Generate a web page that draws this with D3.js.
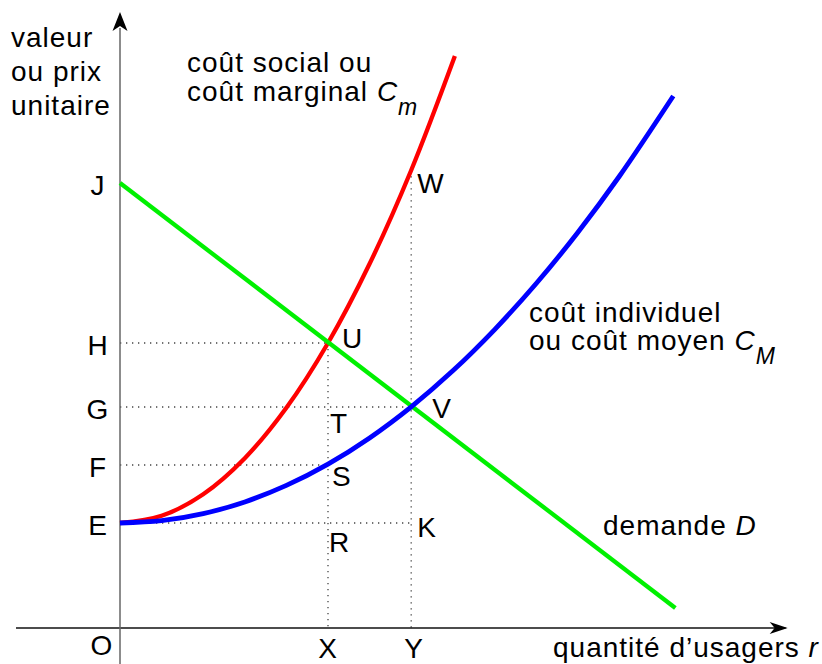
<!DOCTYPE html>
<html><head><meta charset="utf-8">
<script src="https://cdn.jsdelivr.net/npm/d3@7"></script>
<style>html,body{margin:0;padding:0;background:#fff;}svg{display:block;}
text{font-family:"Liberation Sans",Arial,Helvetica,sans-serif;font-size:28px;fill:#000;letter-spacing:1px;}</style>
</head><body>
<script>
// quantity r (x) and value (y) readings
const blueR = [0, 2, 4, 6, 8, 10, 12, 14, 16, 18, 20, 22, 24, 26.6];
const blueV = [10.5, 10.73, 11.43, 12.61, 14.26, 16.39, 19.01, 22.12, 25.72, 29.82, 34.42, 39.53, 45.15, 53.2];
const redR = [0, 2, 4, 6, 8, 10, 12, 14, 16.1];
const redV = [10.5, 11.22, 13.38, 16.98, 22.02, 28.5, 36.42, 45.78, 57.2];
const demandR = [0, 26.7];
const demandV = [44.5, 2.0];
const yTickLabels = ["J", "H", "G", "F", "E"];
const yTickValues = [44.5, 28.5, 22.1, 16.3, 10.5];
const xTickLabels = ["X", "Y"];
const xTickValues = [10, 14];
const pointLabels = ["U", "V", "W", "T", "S", "R", "K"];
const pointR = [10, 14, 14, 10, 10, 10, 14];
const pointV = [28.5, 22.1, 45.78, 22.1, 16.3, 10.5, 10.5];

const W = 822, H = 664;
const svg = d3.select("body").append("svg").attr("width", W).attr("height", H);
const x = d3.scaleLinear().domain([0, 10]).range([120, 328]);
const y = d3.scaleLinear().domain([0, 10]).range([628, 528]);

// dotted guides
const dot = svg.append("g").attr("stroke", "#444").attr("stroke-width", 1.3)
  .attr("stroke-dasharray", "1.3,4.7").attr("fill", "none");
const hGuides = [[28.5, 10], [22.1, 14], [16.3, 10], [10.5, 14]];
hGuides.forEach(([v, r]) => dot.append("line").attr("x1", x(0)).attr("x2", x(r)).attr("y1", y(v)).attr("y2", y(v)));
const vGuides = [[10, 28.5], [14, 45.78]];
vGuides.forEach(([r, v]) => dot.append("line").attr("x1", x(r)).attr("x2", x(r)).attr("y1", y(v)).attr("y2", y(0)));

// axes
svg.append("line").attr("x1", x(-5)).attr("x2", x(32)).attr("y1", y(0)).attr("y2", y(0))
  .attr("stroke", "#111").attr("stroke-width", 1.3);
svg.append("line").attr("x1", x(0)).attr("x2", x(0)).attr("y1", y(-4)).attr("y2", y(60))
  .attr("stroke", "#666").attr("stroke-width", 1.5);
// arrowheads
const tx = x(0), ty = y(61.6);
svg.append("path").attr("d", `M${tx},${ty} L${tx+7.5},${ty+19} L${tx},${ty+14} L${tx-7.5},${ty+19} Z`).attr("fill", "#000");
const ax = x(32.1), ay = y(0);
svg.append("path").attr("d", `M${ax},${ay} L${ax-18},${ay-6} L${ax-13},${ay} L${ax-18},${ay+6} Z`).attr("fill", "#000");

const line = d3.line().x(d => x(d[0])).y(d => y(d[1])).curve(d3.curveCatmullRom);
svg.append("path").datum(redR.map((r, i) => [r, redV[i]])).attr("d", line)
  .attr("fill", "none").attr("stroke", "#ff0000").attr("stroke-width", 4.3);
svg.append("path").datum(demandR.map((r, i) => [r, demandV[i]])).attr("d", line)
  .attr("fill", "none").attr("stroke", "#00f000").attr("stroke-width", 4.3);
svg.append("path").datum(blueR.map((r, i) => [r, blueV[i]])).attr("d", line)
  .attr("fill", "none").attr("stroke", "#0000ff").attr("stroke-width", 4.8);

// tick labels
yTickLabels.forEach((t, i) => svg.append("text").attr("x", 98).attr("y", y(yTickValues[i]) + 12)
  .attr("text-anchor", "middle").text(t));
xTickLabels.forEach((t, i) => svg.append("text").attr("x", x(xTickValues[i]) + (i ? 3 : 0)).attr("y", 658)
  .attr("text-anchor", "middle").text(t));
svg.append("text").attr("x", 102).attr("y", 655).attr("text-anchor", "middle").text("O");

// point labels
const offs = [[14, 5], [21, 11], [6, 23], [2, 26], [4, 21], [1, 29], [6, 14]];
pointLabels.forEach((t, i) => svg.append("text").attr("x", x(pointR[i]) + offs[i][0])
  .attr("y", y(pointV[i]) + offs[i][1]).text(t));

// axis titles
["valeur", "ou prix", "unitaire"].forEach((t, i) => svg.append("text").attr("x", 11).attr("y", 47 + 34 * i).text(t));
svg.append("text").attr("x", 553).attr("y", 657).text("quantité d’usagers ")
  .append("tspan").style("font-style", "italic").text("r");

// curve captions
svg.append("text").attr("x", 187).attr("y", 72).text("coût social ou");
const cm = svg.append("text").attr("x", 187).attr("y", 101).text("coût marginal ");
cm.append("tspan").style("font-style", "italic").text("C");
cm.append("tspan").style("font-style", "italic").style("font-size", "23px").attr("dy", 14).text("m");

svg.append("text").attr("x", 529).attr("y", 322).text("coût individuel");
const cM = svg.append("text").attr("x", 529).attr("y", 350).text("ou coût moyen ");
cM.append("tspan").style("font-style", "italic").text("C");
cM.append("tspan").style("font-style", "italic").style("font-size", "23px").attr("dy", 14).text("M");

const dd = svg.append("text").attr("x", 603).attr("y", 535).text("demande ");
dd.append("tspan").style("font-style", "italic").text("D");
</script>
</body></html>
